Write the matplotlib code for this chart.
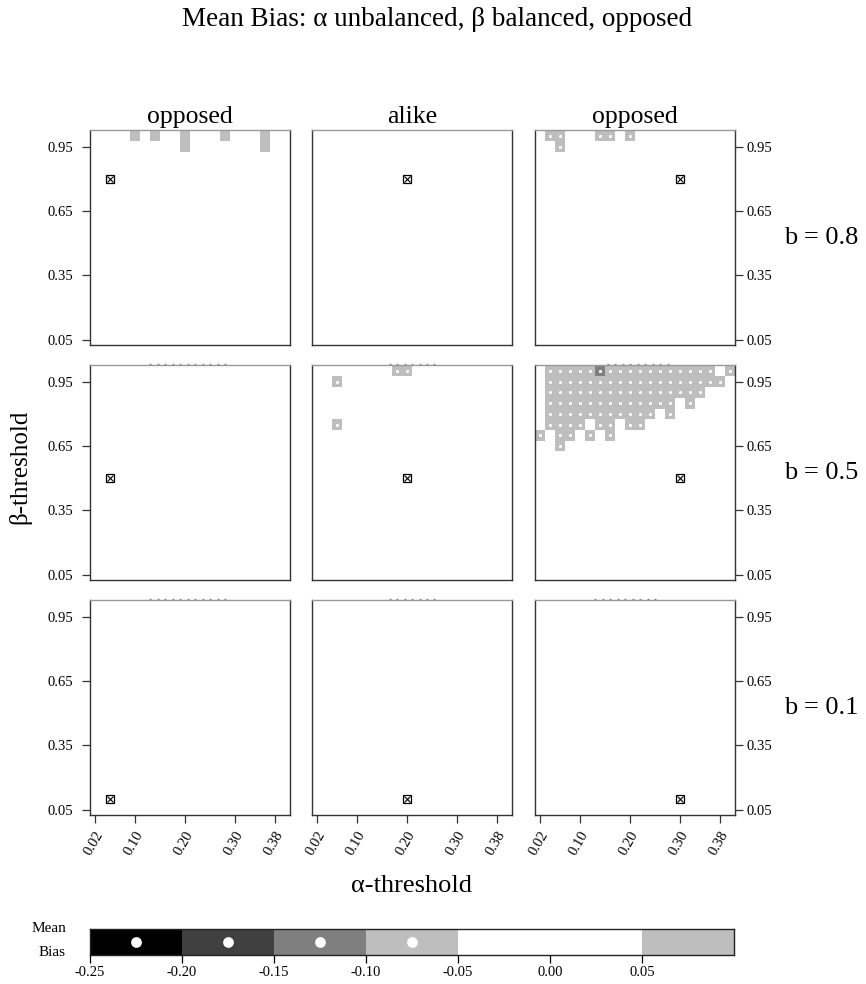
import numpy as np
import matplotlib
matplotlib.use('Agg')
import matplotlib.pyplot as plt
from matplotlib.colors import ListedColormap, BoundaryNorm

plt.rcParams['font.family'] = ['Liberation Serif', 'DejaVu Serif']

# ---------------- data ----------------
title = 'Mean Bias: \u03b1 unbalanced, \u03b2 balanced, opposed'
col_titles = ['opposed', 'alike', 'opposed']
row_labels = ['b = 0.8', 'b = 0.5', 'b = 0.1']

alpha_grid = [0.02, 0.04, 0.06, 0.08, 0.10, 0.12, 0.14, 0.16, 0.18, 0.20,
              0.22, 0.24, 0.26, 0.28, 0.30, 0.32, 0.34, 0.36, 0.38, 0.40]
beta_grid = [0.05, 0.10, 0.15, 0.20, 0.25, 0.30, 0.35, 0.40, 0.45, 0.50,
             0.55, 0.60, 0.65, 0.70, 0.75, 0.80, 0.85, 0.90, 0.95, 1.00]

x_ticks = [0.02, 0.10, 0.20, 0.30, 0.38]
y_ticks = [0.05, 0.35, 0.65, 0.95]

bias_bounds = [-0.25, -0.20, -0.15, -0.10, -0.05, 0.05, 0.10]
bias_colors = ['#000000', '#404040', '#7F7F7F', '#BEBEBE', '#FFFFFF', '#BEBEBE']
cbar_ticks = [-0.25, -0.20, -0.15, -0.10, -0.05, 0.00, 0.05]

true_alpha = [0.05, 0.20, 0.30]   # per column
true_beta = [0.8, 0.5, 0.1]       # per row

# non-white cells, panel (row, col)
p00_alpha = [0.10, 0.14, 0.20, 0.20, 0.28, 0.36, 0.36]
p00_beta = [1.00, 1.00, 1.00, 0.95, 1.00, 1.00, 0.95]
p00_bias = [0.07, 0.07, 0.07, 0.07, 0.07, 0.07, 0.07]

p02_alpha = [0.04, 0.06, 0.06, 0.14, 0.16, 0.20]
p02_beta = [1.00, 1.00, 0.95, 1.00, 1.00, 1.00]
p02_bias = [-0.07, -0.07, -0.07, -0.07, -0.07, -0.07]

p11_alpha = [0.06, 0.06, 0.18, 0.20]
p11_beta = [0.95, 0.75, 1.00, 1.00]
p11_bias = [-0.07, -0.07, -0.07, -0.07]

p12_rows_beta = [1.00, 0.95, 0.90, 0.85, 0.80, 0.75, 0.70, 0.65]
p12_rows_alpha = [
    [0.04, 0.06, 0.08, 0.10, 0.12, 0.16, 0.18, 0.20, 0.22, 0.24, 0.26, 0.28,
     0.30, 0.32, 0.34, 0.36, 0.40],
    [0.04, 0.06, 0.08, 0.10, 0.12, 0.14, 0.16, 0.18, 0.20, 0.22, 0.24, 0.26,
     0.28, 0.30, 0.32, 0.34, 0.36, 0.38],
    [0.04, 0.06, 0.08, 0.10, 0.12, 0.14, 0.16, 0.18, 0.20, 0.22, 0.24, 0.26,
     0.28, 0.30, 0.32, 0.34],
    [0.04, 0.06, 0.08, 0.10, 0.12, 0.14, 0.16, 0.18, 0.20, 0.22, 0.24, 0.26,
     0.28, 0.32],
    [0.04, 0.06, 0.08, 0.10, 0.12, 0.14, 0.16, 0.18, 0.20, 0.22, 0.24, 0.28],
    [0.04, 0.06, 0.08, 0.10, 0.14, 0.16, 0.20, 0.22],
    [0.02, 0.06, 0.08, 0.12, 0.16],
    [0.06],
]
p12_rows_bias = [-0.07, -0.07, -0.07, -0.07, -0.07, -0.07, -0.07, -0.07]
p12_dark_alpha = [0.14]
p12_dark_beta = [1.00]
p12_dark_bias = [-0.12]

# faint dashes above the top border (alpha range)
dash_ranges = {(1, 0): (0.13, 0.29), (2, 0): (0.13, 0.29),
               (1, 1): (0.165, 0.255), (2, 1): (0.165, 0.255),
               (1, 2): (0.155, 0.285), (2, 2): (0.13, 0.26)}

# ---------------- assemble cells ----------------
cells = {(r, c): ([], [], []) for r in range(3) for c in range(3)}
def add(key, al, be, bi):
    cells[key][0].extend(al); cells[key][1].extend(be); cells[key][2].extend(bi)
add((0, 0), p00_alpha, p00_beta, p00_bias)
add((0, 2), p02_alpha, p02_beta, p02_bias)
add((1, 1), p11_alpha, p11_beta, p11_bias)
for b, al, bi in zip(p12_rows_beta, p12_rows_alpha, p12_rows_bias):
    add((1, 2), al, [b] * len(al), [bi] * len(al))
add((1, 2), p12_dark_alpha, p12_dark_beta, p12_dark_bias)

a_arr = np.array(alpha_grid)
b_arr = np.array(beta_grid)
da = a_arr[1] - a_arr[0]
db = b_arr[1] - b_arr[0]
a_edges = np.concatenate([a_arr - da / 2, [a_arr[-1] + da / 2]])
b_edges = np.concatenate([b_arr - db / 2, [b_arr[-1] + db / 2]])

cmap = ListedColormap(bias_colors)
norm = BoundaryNorm(bias_bounds, cmap.N)

# ---------------- figure ----------------
W, H = 866, 984
fig = plt.figure(figsize=(W / 100, H / 100), dpi=100)

col_x = [90, 312, 535]
col_w = 200
row_y = [130, 365, 600]
row_h = 215

spine_col = '#333333'
lbl_fs = 10.5

for r in range(3):
    for c in range(3):
        ax = fig.add_axes([col_x[c] / W, 1 - (row_y[r] + row_h) / H, col_w / W, row_h / H])
        Z = np.zeros((len(beta_grid), len(alpha_grid)))
        al, be, bi = cells[(r, c)]
        for a, b, v in zip(al, be, bi):
            i = int(np.argmin(np.abs(a_arr - a)))
            j = int(np.argmin(np.abs(b_arr - b)))
            Z[j, i] = v
        ax.pcolormesh(a_edges, b_edges, Z, cmap=cmap, norm=norm, shading='flat',
                      edgecolors='none', antialiased=False)
        neg = [(a, b) for a, b, v in zip(al, be, bi) if v < -0.05]
        if neg:
            ax.scatter([p[0] for p in neg], [p[1] for p in neg], s=5, c='white',
                       linewidths=0, zorder=3)
        # true value marker
        ax.plot(true_alpha[c], true_beta[r], marker='s', ms=5.5, mfc='white',
                mec='black', mew=0.9, zorder=4)
        ax.plot(true_alpha[c], true_beta[r], marker='x', ms=4.2, color='black',
                mew=0.8, zorder=5)
        if (r, c) in dash_ranges:
            lo, hi = dash_ranges[(r, c)]
            xs = np.arange(lo, hi + 1e-9, 0.015)
            ax.plot(xs, np.full_like(xs, 1.031), ls='none', marker='_', ms=1.6,
                    mew=0.9, color='#888888', clip_on=False, zorder=6)
        ax.set_xlim(a_edges[0], a_edges[-1])
        ax.set_ylim(b_edges[0], b_edges[-1] + 0.003)
        for s in ['left', 'right', 'bottom']:
            ax.spines[s].set_color(spine_col)
            ax.spines[s].set_linewidth(1.0)
        ax.spines['top'].set_color('#999999')
        ax.spines['top'].set_linewidth(1.0)

        ax.set_xticks(x_ticks)
        ax.set_yticks(y_ticks)
        ax.tick_params(direction='out', length=6, width=0.9, color=spine_col,
                       labelsize=lbl_fs)
        if r == 2:
            ax.set_xticklabels(['%.2f' % t for t in x_ticks], rotation=60,
                               ha='right', va='top', rotation_mode='anchor')
            ax.tick_params(axis='x', pad=4)
        else:
            ax.tick_params(axis='x', bottom=False, labelbottom=False)
        ytl = ['%.2f' % t for t in y_ticks]
        if c == 0:
            ax.set_yticklabels(ytl)
            ax.tick_params(axis='y', left=True, labelleft=True, pad=6)
        elif c == 2:
            ax.yaxis.tick_right()
            ax.set_yticklabels(ytl)
            ax.tick_params(axis='y', right=True, labelright=True, pad=2)
        else:
            ax.tick_params(axis='y', left=False, labelleft=False)

        if r == 0:
            ax.text(0.5, 1.008, col_titles[c], transform=ax.transAxes,
                    ha='center', va='bottom', fontsize=18.5)
        if c == 2:
            fig.text(784 / W, 1 - (row_y[r] + row_h / 2) / H, row_labels[r],
                     ha='left', va='center', fontsize=19)

fig.text(437 / W, 1 - 20 / H, title, ha='center', va='center', fontsize=19.5)
fig.text(20 / W, 1 - 467 / H, '\u03b2-threshold', ha='center', va='center',
         rotation=90, fontsize=18)
fig.text(412 / W, 1 - 886 / H, '\u03b1-threshold', ha='center', va='center',
         fontsize=19)

# ---------------- colour key ----------------
cax = fig.add_axes([90 / W, 1 - 955 / H, 644 / W, 26 / H])
lows = bias_bounds[:-1]
widths = [bias_bounds[k + 1] - bias_bounds[k] for k in range(len(lows))]
cax.bar(lows, [1] * len(lows), width=widths, align='edge', color=bias_colors,
        edgecolor='none')
dot_x = [lows[k] + widths[k] / 2 for k in range(len(lows)) if bias_colors[k] != '#FFFFFF' and lows[k] < 0]
cax.scatter(dot_x, [0.5] * len(dot_x), s=60, c='white', linewidths=0, zorder=3)
cax.set_xlim(bias_bounds[0], bias_bounds[-1])
cax.set_ylim(0, 1)
cax.set_yticks([])
cax.set_xticks(cbar_ticks)
cax.set_xticklabels(['%.2f' % t for t in cbar_ticks])
cax.tick_params(axis='x', direction='out', length=6, width=0.9, labelsize=10.5, pad=2)
for s in cax.spines.values():
    s.set_color('#222222')
    s.set_linewidth(1.0)
fig.text(66 / W, 1 - 928 / H, 'Mean', ha='right', va='center', fontsize=11)
fig.text(66 / W, 1 - 952 / H, 'Bias', ha='right', va='center', fontsize=11)

fig.savefig('out.png', dpi=100)
